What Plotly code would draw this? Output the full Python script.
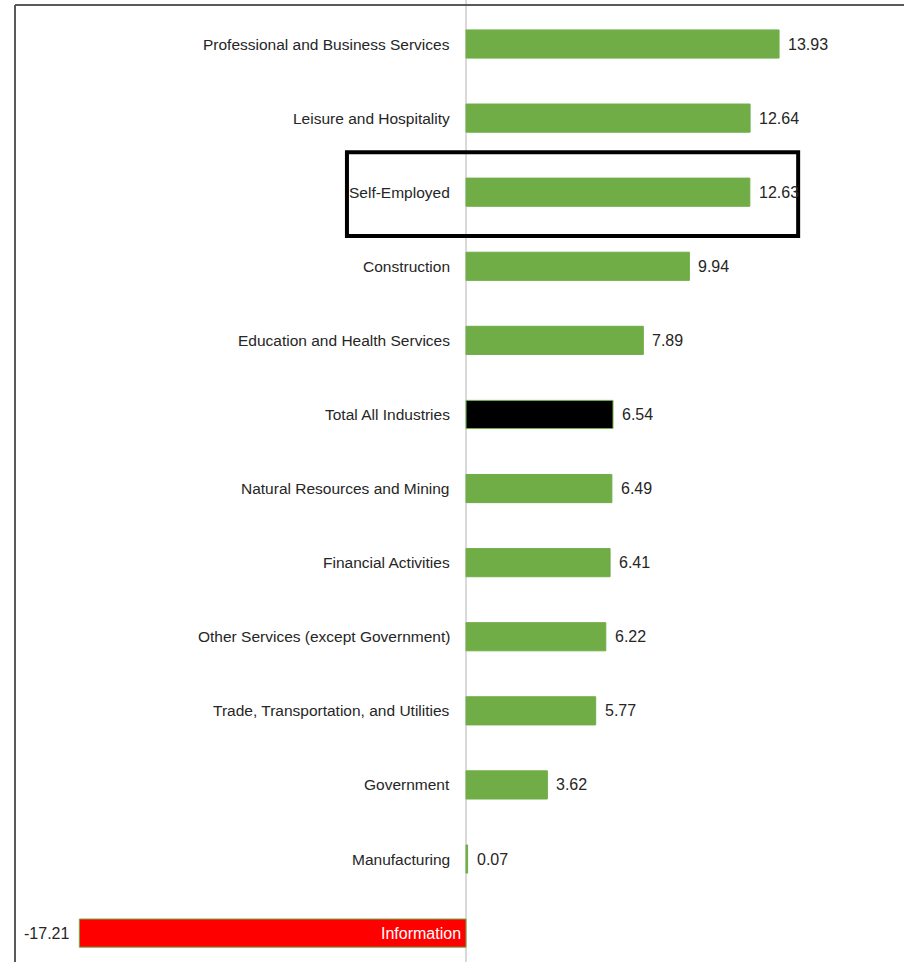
import plotly.graph_objects as go

industries = [
    "Professional and Business Services",
    "Leisure and Hospitality",
    "Self-Employed",
    "Construction",
    "Education and Health Services",
    "Total All Industries",
    "Natural Resources and Mining",
    "Financial Activities",
    "Other Services (except Government)",
    "Trade, Transportation, and Utilities",
    "Government",
    "Manufacturing",
    "Information",
]
growth = [13.93, 12.64, 12.63, 9.94, 7.89, 6.54, 6.49, 6.41, 6.22, 5.77, 3.62, 0.07, -17.21]
value_text = ["13.93", "12.64", "12.63", "9.94", "7.89", "6.54", "6.49", "6.41", "6.22", "5.77", "3.62", "0.07", "-17.21"]

GREEN = "#70AD47"
colors = []
for name, v in zip(industries, growth):
    if name == "Total All Industries":
        colors.append("#000000")
    elif v < 0:
        colors.append("#FF0000")
    else:
        colors.append(GREEN)

FONT = "Liberation Sans Narrow, Arial Narrow, Liberation Sans, sans-serif"
TEXT = "#262626"

fig = go.Figure(
    go.Bar(
        x=growth,
        y=industries,
        orientation="h",
        marker=dict(color=colors, line=dict(color=GREEN, width=1)),
        width=0.38,
        hoverinfo="x+y",
    )
)

ann = []
for name, v, t in zip(industries, growth, value_text):
    if v >= 0:
        ann.append(dict(x=0, y=name, text=name, xanchor="right", xshift=-14,
                        showarrow=False, font=dict(size=15.5, color=TEXT, family=FONT)))
        ann.append(dict(x=v, y=name, text=t, xanchor="left", xshift=7,
                        showarrow=False, font=dict(size=16, color=TEXT, family=FONT)))
    else:
        ann.append(dict(x=0, y=name, text=name, xanchor="right", xshift=-3,
                        showarrow=False, font=dict(size=16, color="#ffffff", family=FONT)))
        ann.append(dict(x=v, y=name, text=t, xanchor="right", xshift=-8,
                        showarrow=False, font=dict(size=16, color=TEXT, family=FONT)))

shapes = [
    # highlight box around Self-Employed
    dict(type="rect", xref="x", yref="y", x0=-5.3, x1=14.78, y0=1.46, y1=2.59,
         line=dict(color="#000000", width=4), fillcolor="rgba(0,0,0,0)", layer="above"),
    # chart frame (left and top edges)
    dict(type="line", xref="paper", yref="paper", x0=15 / 904, x1=15 / 904, y0=0, y1=1 - 5 / 962,
         line=dict(color="#595959", width=2)),
    dict(type="line", xref="paper", yref="paper", x0=15 / 904, x1=1, y0=1 - 5 / 962, y1=1 - 5 / 962,
         line=dict(color="#595959", width=2)),
]

fig.update_layout(
    width=904,
    height=962,
    margin=dict(l=0, r=0, t=0, b=0),
    paper_bgcolor="white",
    plot_bgcolor="white",
    showlegend=False,
    annotations=ann,
    shapes=shapes,
    xaxis=dict(range=[-20.74, 19.49], showgrid=False, showticklabels=False,
               zeroline=True, zerolinecolor="#D9D9D9", zerolinewidth=1.5),
    yaxis=dict(range=[12.39, -0.594], showgrid=False, showticklabels=False,
               categoryorder="array", categoryarray=industries),
)

fig.write_html("out.html", config={"displayModeBar": False},
               post_script="document.body.style.margin='0';")
